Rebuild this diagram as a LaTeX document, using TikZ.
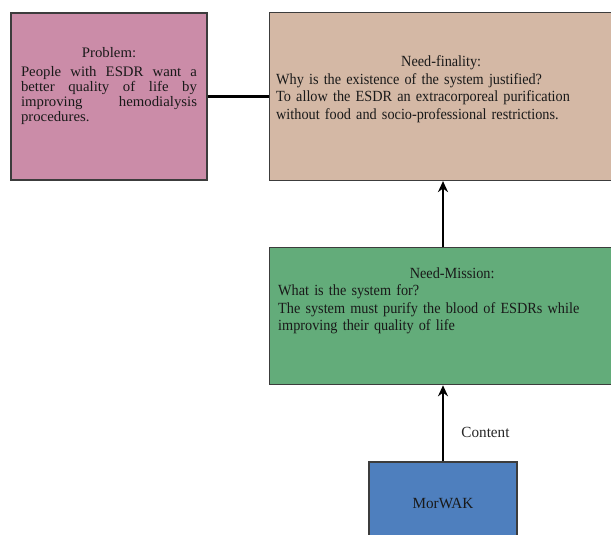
\documentclass[tikz,border=0pt]{standalone}
\usepackage{fontspec}
\setmainfont{Liberation Serif}[FakeStretch=0.92]
\newfontfamily\problemfont{Liberation Serif}[FakeStretch=1.02]
\newfontfamily\labelfont{Liberation Serif}[FakeStretch=0.98]
\usetikzlibrary{positioning,arrows.meta}

\definecolor{problempink}{RGB}{203,140,168}
\definecolor{finalitytan}{RGB}{212,184,165}
\definecolor{missiongreen}{RGB}{99,172,122}
\definecolor{morwakblue}{RGB}{78,127,190}
\definecolor{boxline}{RGB}{60,60,60}

\newcommand\tightlines{\lineskiplimit=-20pt\relax\hyphenpenalty=10000\relax}

\begin{document}
\begin{tikzpicture}[
    x=1pt, y=1pt,
    box/.style={rectangle, draw=boxline, line width=1.2pt, text=black!90,
                inner sep=0pt, font=\fontsize{15.5}{17.5}\selectfont\tightlines},
    arrow/.style={-{Stealth[length=11pt,width=10pt]}, line width=2.2pt, black},
    link/.style={line width=2.5pt, black}
]
    \useasboundingbox (0,0) rectangle (611,-535);
    \clip (0,0) rectangle (611,-535);

    \node[box, fill=problempink, minimum width=196pt, minimum height=167pt,
          text width=176pt, align=justify,
          font=\problemfont\fontsize{14.5}{15}\selectfont\tightlines]
          (problem) at (109,-96.5)
          {{\centering Problem:\par}\vspace{4pt}People with ESDR want a\linebreak
           better quality of life by\linebreak improving hemodialysis\linebreak
           procedures.\par\vspace{21pt}};
    \node[box, fill=finalitytan, minimum width=344pt, minimum height=168pt,
          text width=330pt, align=left, right=61pt of problem] (finality)
          {{\centering Need-finality:\par}Why is the existence of the system justified?\par
           \makebox[330pt][s]{To allow the ESDR an extracorporeal purification}\par
           without food and socio-professional restrictions.\par\vspace{15pt}};

    \node[box, fill=missiongreen, minimum width=366pt, minimum height=137pt,
          text width=348pt, align=left,
          below=66pt of finality.south west, anchor=north west] (mission)
          {{\centering Need-Mission:\par}What is the system for?\par
           \makebox[348pt][s]{The system must purify the blood of ESDRs while}\par
           improving their quality of life\par\vspace{31pt}};
    \node[box, fill=morwakblue, minimum width=148pt, minimum height=82pt,
          font=\labelfont\fontsize{15.5}{17}\selectfont] (morwak) at (443,-503) {MorWAK};

    \draw[link] (problem.east) -- (problem.east -| finality.west);
    \draw[arrow] (mission.north -| morwak.north) -- (finality.south -| morwak.north);
    \draw[arrow] (morwak.north) -- (morwak.north |- mission.south)
        node[pos=0.38, right=14pt, font=\labelfont\fontsize{15.5}{17}\selectfont, text=black!85] (content) {Content};
\end{tikzpicture}
\end{document}
